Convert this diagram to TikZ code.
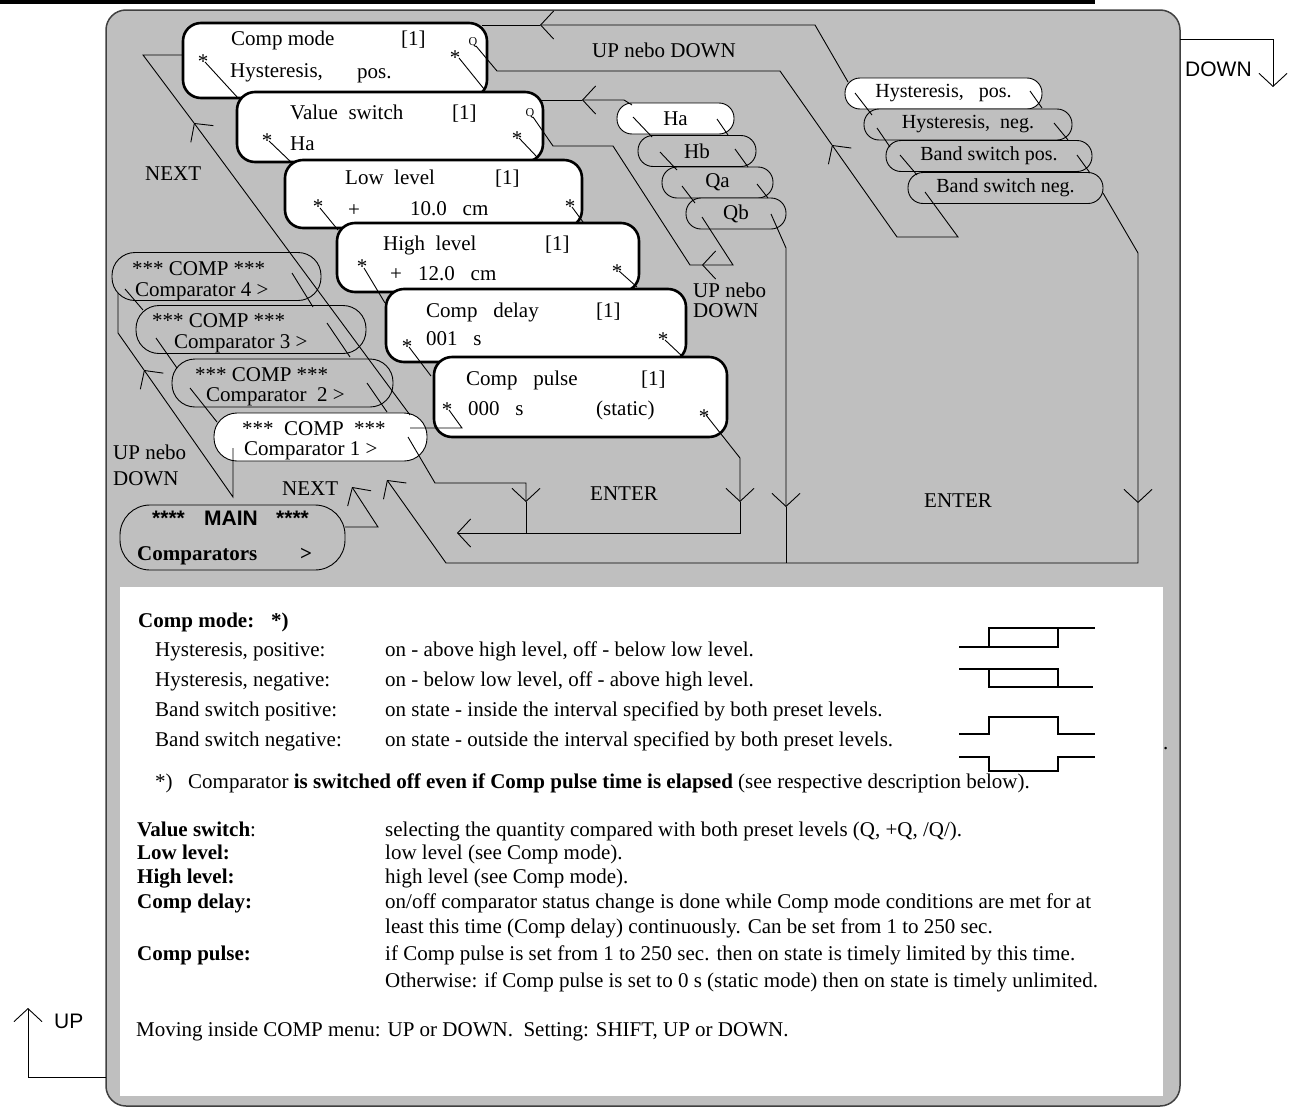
\documentclass[tikz,border=0pt]{standalone}
\usepackage{fontspec}
\setmainfont{Liberation Serif}
\newfontfamily\arialfont{Liberation Sans}
\usetikzlibrary{arrows.meta,positioning}

\begin{document}
\begin{tikzpicture}[
    x=1pt,
    y=-1pt,
    font=\fontsize{21}{25}\selectfont,
    frame/.style={draw=black!75, line width=1.5pt, fill=gray!50, rounded corners=20pt},
    menu/.style={draw=black, line width=2.6pt, fill=white, rounded corners=18pt},
    pick/.style={draw=black, line width=0.9pt, fill=gray!50, inner sep=0pt},
    opt/.style={pick, rounded corners=15pt, minimum height=31pt, font=\fontsize{20}{24}\selectfont},
    cmp/.style={pick, rounded corners=23pt, minimum height=48pt},
    link/.style={black, line width=0.9pt},
    flow/.style={link, -{Straight Barb[length=13pt,width=28pt]}},
    lab/.style={inner sep=0pt, anchor=base west, yshift=-7pt},
    star/.style={inner sep=0pt, yshift=-3.5pt},
    qmark/.style={inner sep=0pt, font=\fontsize{12}{12}\selectfont},
    wave/.style={line width=2.6pt}
  ]
    \useasboundingbox (0,0) rectangle (1290,1111);
    \draw[line width=3.5pt] (0,1.8) -- (1095,1.8);
    \draw[frame] (106,10) rectangle (1180,1106);
    \fill[white] (120,587) rectangle (1163,1096);

    \node[menu, minimum width=304pt, minimum height=75pt] (cmode) at (335,60.5) {};
    \node[menu, minimum width=306pt, minimum height=70pt] (vswitch) at (390,127) {};
    \node[menu, minimum width=297pt, minimum height=68pt] (lowlvl) at (433.5,194) {};
    \node[menu, minimum width=302pt, minimum height=69pt] (highlvl) at (488,257.5) {};
    \node[menu, minimum width=300pt, minimum height=73pt] (cdelay) at (536,325.5) {};
    \node[menu, minimum width=293pt, minimum height=80pt] (cpulse) at (580.5,397) {};

    \node[opt, fill=white, minimum width=197pt] (hpos) at (943.5,93.5) {Hysteresis,\ \ \ pos.};
    \node[opt, minimum width=208pt] (hneg) at (968,124.5) {Hysteresis,\ \ neg.};
    \node[opt, minimum width=206pt] (bpos) at (989,156) {Band switch pos.};
    \node[opt, minimum width=195pt] (bneg) at (1005.5,188) {Band switch neg.};

    \node[opt, fill=white, minimum width=117pt, font=\fontsize{21}{25}\selectfont] (ha) at (675.5,118.5) {Ha};
    \node[opt, minimum width=118pt, font=\fontsize{21}{25}\selectfont] (hb) at (697,151) {Hb};
    \node[opt, minimum width=111pt, font=\fontsize{21}{25}\selectfont] (qa) at (717.5,182.5) {Qa};
    \node[opt, minimum width=100pt, font=\fontsize{21}{25}\selectfont] (qb) at (736,213.5) {Qb};

    \node[cmp, minimum width=209pt] (comp4) at (216.5,276.5) {};
    \node[cmp, minimum width=230pt] (comp3) at (251,329.5) {};
    \node[cmp, minimum width=221pt] (comp2) at (282.5,383) {};
    \node[cmp, fill=white, minimum width=213pt] (comp1) at (320.5,437) {};
    \node[pick, rounded corners=30pt, minimum width=225pt, minimum height=65pt] (main) at (232.5,537.5) {};

    \node[lab] (tcmode) at (231,38) {Comp mode};
    \node[lab] (ncmode) at (401,38) {[1]};
    \node[lab] (vcmode) at (230,70) {Hysteresis,};
    \node[lab] (vcmode2) at (357,71) {pos.};
    \node[lab] (tvswitch) at (290,112) {Value\ \ switch};
    \node[lab] (nvswitch) at (452,112) {[1]};
    \node[lab] (vvswitch) at (290,143) {Ha};
    \node[lab] (tlowlvl) at (345,177) {Low\ \ level};
    \node[lab] (nlowlvl) at (495,177) {[1]};
    \node[lab] (slowlvl) at (348,209) {+};
    \node[lab] (vlowlvl) at (410,208) {10.0\ \ \ cm};
    \node[lab] (thighlvl) at (383,243) {High\ \ level};
    \node[lab] (nhighlvl) at (545,243) {[1]};
    \node[lab] (shighlvl) at (390,273) {+};
    \node[lab] (vhighlvl) at (418,273) {12.0\ \ \ cm};
    \node[lab] (tcdelay) at (426,310) {Comp\ \ \ delay};
    \node[lab] (ncdelay) at (596,310) {[1]};
    \node[lab] (vcdelay) at (426,338) {001\ \ \ s};
    \node[lab] (tcpulse) at (466,378) {Comp\ \ \ pulse};
    \node[lab] (ncpulse) at (641,378) {[1]};
    \node[lab] (vcpulse) at (468,408) {000\ \ \ s};
    \node[lab] (mcpulse) at (596,408) {(static)};
    \node[qmark] (qcmode) at (473,42) {Q};
    \node[qmark] (qvswitch) at (530,113) {Q};

    \foreach \x/\y [count=\i] in {203/58, 455/54, 267/137, 517/135, 318/203, 570/203,
        362/263, 617/268, 407/343, 663/336, 447/406, 704/413}
      \node[star] (star\i) at (\x,\y) {*};

    \node[lab] (hcomp4) at (132,268) {*** COMP ***};
    \node[lab] (lcomp4) at (135,289) {Comparator 4 >};
    \node[lab] (hcomp3) at (152,320) {*** COMP ***};
    \node[lab] (lcomp3) at (174,341) {Comparator 3 >};
    \node[lab] (hcomp2) at (195,374) {*** COMP ***};
    \node[lab] (lcomp2) at (206,394) {Comparator\ \ 2 >};
    \node[lab] (hcomp1) at (242,428) {***\ \ COMP\ \ ***};
    \node[lab] (lcomp1) at (244,448) {Comparator 1 >};
    \node[lab] (hmain1) at (152,518) {\arialfont\bfseries ****};
    \node[lab] (hmain) at (204,518) {\arialfont\bfseries MAIN};
    \node[lab] (hmain2) at (276,518) {\arialfont\bfseries ****};
    \node[lab] (lmain) at (137,553) {\textbf{Comparators}};
    \node[lab] (lmain2) at (300,553) {\textbf{>}};

    \node[lab] (updn1) at (592,50) {UP nebo DOWN};
    \node[lab] (updn2) at (693,290) {UP nebo};
    \node[lab] (updn2b) at (693,310) {DOWN};
    \node[lab] (updn3) at (113,452) {UP nebo};
    \node[lab] (updn3b) at (113,478) {DOWN};
    \node[lab] (next1) at (145,173) {NEXT};
    \node[lab] (next2) at (282,488) {NEXT};
    \node[lab] (enter1) at (590,493) {ENTER};
    \node[lab] (enter2) at (924,500) {ENTER};
    \node[lab] (downkey) at (1185,69) {\arialfont DOWN};
    \node[lab] (upkey) at (54,1021) {\arialfont UP};

    \foreach \xa/\ya/\xb/\yb in {205/62/238/98, 269/141/292/163, 320/208/338/230, 364/268/385/303,
        409/347/431/376, 459/58/484/89, 519/138/537/157, 572/207/583/222, 619/271/637/287,
        665/340/682/356, 855/93/872/115, 877/128/890/147, 900/155/917/175, 1030/91/1042/108,
        1054/123/1068/140, 1077/155/1090/173, 633/117/652/137, 717/119/728/135, 660/152/677/170,
        735/149/748/167, 682/186/695/203, 757/184/768/198, 125/289/143/310, 156/338/177/368,
        190/388/217/422, 292/273/313/307, 327/323/350/357, 367/383/387/412}
      \draw[link] (\xa,\ya) -- (\xb,\yb);

    \draw[flow] (848,82) -- (815,25) -- (540,25);
    \draw[link] (540,25) -- (482,25);
    \draw[flow] (925,192) -- (958,237) -- (897,237) -- (832,145);
    \draw[link] (832,145) -- (780,71) -- (497,71) -- (476,46);
    \draw[flow] (632,105) -- (624,100) -- (582,100);
    \draw[link] (582,100) -- (540,100);
    \draw[flow] (702,217) -- (733,265) -- (702,265);
    \draw[link] (702,265) -- (690,265) -- (613,146) -- (553,146) -- (533,117);
    \draw[flow] (1103,193) -- (1138,253) -- (1138,503);
    \draw[flow] (771,214) -- (786,248) -- (786,507);
    \draw[flow] (1138,503) -- (1138,563) -- (446,563) -- (387,480);
    \draw[link] (786,507) -- (786,563);
    \draw[flow] (706,415) -- (740,458) -- (740,502);
    \draw[flow] (740,502) -- (740,533) -- (457,533);
    \draw[flow] (408,437) -- (435,483) -- (526,483) -- (526,502);
    \draw[link] (526,502) -- (526,533);
    \draw[link] (449,410) -- (462,428) -- (410,428);
    \draw[flow] (410,415) -- (194,123);
    \draw[link] (194,123) -- (143,55) -- (183,55);
    \draw[flow] (233,448) -- (233,497) -- (144,370);
    \draw[link] (144,370) -- (118,333) -- (118,293);
    \draw[flow] (345,527) -- (378,527) -- (352,487);
    \draw[flow] (1180,39) -- (1273,39) -- (1273,87);
    \draw[flow] (106,1077) -- (28,1077) -- (28,1008);

    \draw[wave] (959,647) -- (1058,647) -- (1058,628) -- (1095,628);
    \draw[wave] (989,647) -- (989,628) -- (1058,628);
    \draw[wave] (959,669) -- (1058,669) -- (1058,687) -- (1093,687);
    \draw[wave] (989,669) -- (989,687) -- (1058,687);
    \draw[wave] (959,734) -- (989,734) -- (989,717) -- (1058,717) -- (1058,734) -- (1095,734);
    \draw[wave] (959,757) -- (989,757) -- (989,771) -- (1058,771) -- (1058,757) -- (1095,757);

    \node[lab] (hdmode) at (138,620) {\textbf{Comp mode:}};
    \node[lab] (hdstar) at (271,620) {\textbf{*)}};
    \node[lab] (mhpos) at (155,649) {Hysteresis, positive:};
    \node[lab] (dhpos) at (385,649) {on - above high level, off - below low level.};
    \node[lab] (mhneg) at (155,679) {Hysteresis, negative:};
    \node[lab] (dhneg) at (385,679) {on - below low level, off - above high level.};
    \node[lab] (mbpos) at (155,709) {Band switch positive:};
    \node[lab] (dbpos) at (385,709) {on state - inside the interval specified by both preset levels.};
    \node[lab] (mbneg) at (155,739) {Band switch negative:};
    \node[lab] (dbneg) at (385,739) {on state - outside the interval specified by both preset levels.};
    \node[lab] (dot) at (1163,742) {.};
    \node[lab] (fnmark) at (155,781) {*)};
    \node[lab] (fntext) at (188,781) {Comparator \textbf{is switched off even if Comp pulse time is elapsed} (see respective description below).};
    \node[lab] (kvs) at (137,829) {\textbf{Value switch}:};
    \node[lab] (tvs) at (385,829) {selecting the quantity compared with both preset levels (Q, +Q, /Q/).};
    \node[lab] (klow) at (137,852) {\textbf{Low level:}};
    \node[lab] (tlow) at (385,852) {low level (see Comp mode).};
    \node[lab] (khigh) at (137,876) {\textbf{High level:}};
    \node[lab] (thigh) at (385,876) {high level (see Comp mode).};
    \node[lab] (kdelay) at (137,901) {\textbf{Comp delay:}};
    \node[lab] (tdelay) at (385,901) {on/off comparator status change is done while Comp mode conditions are met for at};
    \node[lab] (tdelay2) at (385,926) {least this time (Comp delay) continuously. Can be set from 1 to 250 sec.};
    \node[lab] (kpulse) at (137,953) {\textbf{Comp pulse:}};
    \node[lab] (tpulse) at (385,953) {if Comp pulse is set from 1 to 250 sec. then on state is timely limited by this time.};
    \node[lab] (tpulse2) at (385,980) {Otherwise: if Comp pulse is set to 0 s (static mode) then on state is timely unlimited.};
    \node[lab] (tmove) at (136,1029) {Moving inside COMP menu: UP or DOWN.\ \ Setting: SHIFT, UP or DOWN.};
  \end{tikzpicture}
\end{document}
